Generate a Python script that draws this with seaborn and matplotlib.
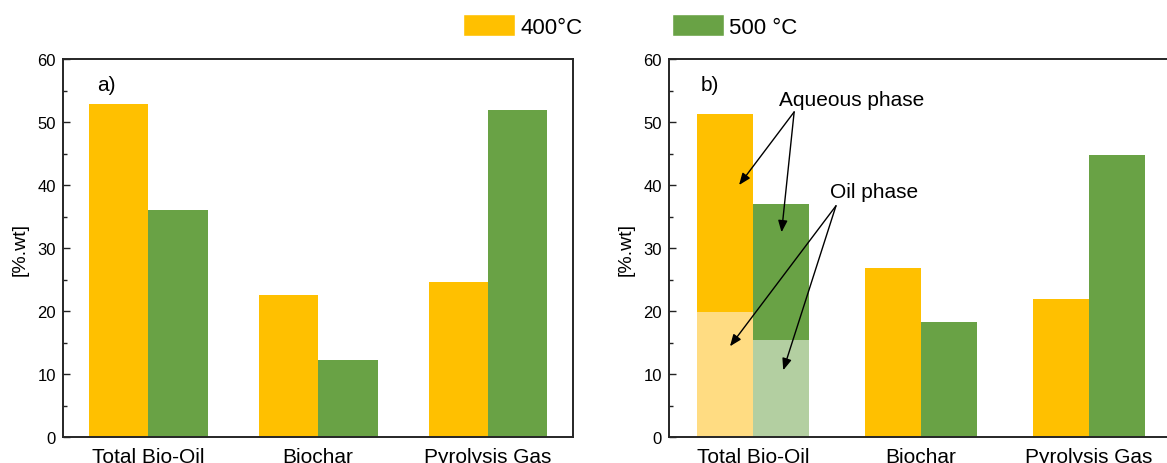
import pandas as pd
import matplotlib
matplotlib.use("Agg")
import matplotlib.pyplot as plt
import seaborn as sns
from matplotlib.ticker import MultipleLocator
from matplotlib.patches import Patch

# data
products = ["Total Bio-Oil", "Biochar", "Pyrolysis Gas"]
temps = ["400°C", "500 °C"]
yield_a_400 = [52.8, 22.6, 24.6]
yield_a_500 = [36.0, 12.2, 51.9]
yield_b_400 = [51.2, 26.9, 21.9]
yield_b_500 = [37.0, 18.3, 44.7]
oil_phase_400 = 19.8
oil_phase_500 = 15.4

orange = "#FFC000"
green = "#69A245"
orange_light = "#FFDC82"
green_light = "#B3CFA1"

sns.set_theme(style="ticks")
plt.rcParams["font.family"] = ["Liberation Sans", "DejaVu Sans"]
plt.rcParams.update({"text.color": "black", "axes.labelcolor": "black",
                     "xtick.color": "black", "ytick.color": "black"})


def make_df(v400, v500):
    return pd.DataFrame({
        "product": products * 2,
        "temp": [temps[0]] * 3 + [temps[1]] * 3,
        "value": list(v400) + list(v500),
    })


df_a = make_df(yield_a_400, yield_a_500)
df_b = make_df(yield_b_400, yield_b_500)
df_oil = pd.DataFrame({"product": [products[0]] * 2, "temp": temps,
                       "value": [oil_phase_400, oil_phase_500]})

fig = plt.figure(figsize=(11.67, 4.64), dpi=100)
ax_a = fig.add_axes([63 / 1167, 26 / 464, 510 / 1167, 378 / 464])
ax_b = fig.add_axes([669 / 1167, 26 / 464, 504 / 1167, 378 / 464])

sns.barplot(data=df_a, x="product", y="value", hue="temp", order=products,
            hue_order=temps, palette=[orange, green], saturation=1, width=0.7,
            gap=0, errorbar=None, linewidth=0, legend=False, ax=ax_a)
sns.barplot(data=df_b, x="product", y="value", hue="temp", order=products,
            hue_order=temps, palette=[orange, green], saturation=1, width=0.667,
            gap=0, errorbar=None, linewidth=0, legend=False, ax=ax_b)
sns.barplot(data=df_oil, x="product", y="value", hue="temp", order=products,
            hue_order=temps, palette=[orange_light, green_light], saturation=1,
            width=0.667, gap=0, errorbar=None, linewidth=0, legend=False, ax=ax_b)

for ax, tag in [(ax_a, "a)"), (ax_b, "b)")]:
    ax.set_xlim(-0.5, 2.5)
    ax.set_ylim(0, 60)
    ax.yaxis.set_major_locator(MultipleLocator(10))
    ax.yaxis.set_minor_locator(MultipleLocator(5))
    ax.tick_params(axis="y", which="major", direction="in", length=5, width=1,
                   labelsize=12, pad=5, color="#222222")
    ax.tick_params(axis="y", which="minor", direction="in", length=3, width=1,
                   color="#222222")
    ax.tick_params(axis="x", length=0, labelsize=15, pad=7)
    ax.set_xlabel("")
    ax.set_ylabel("[%.wt]", fontsize=14, labelpad=6)
    for sp in ax.spines.values():
        sp.set_visible(True)
        sp.set_linewidth(1.4)
        sp.set_color("#262626")
    ax.text(0.066 if tag == "a)" else 0.062, 0.932, tag, transform=ax.transAxes,
            fontsize=15, va="center", ha="left")

# annotations on panel b
ax_b.text(0.59, 53.6, "Aqueous phase", fontsize=15, ha="center", va="center")
ax_b.text(0.72, 38.9, "Oil phase", fontsize=15, ha="center", va="center")
arrow = dict(arrowstyle="-|>,head_length=0.5,head_width=0.2", color="black",
             lw=1, mutation_scale=14, shrinkA=0, shrinkB=0)
for tip in [(-0.083, 40.0), (0.17, 32.5)]:
    ax_b.annotate("", xy=tip, xytext=(0.245, 51.6), arrowprops=arrow)
for tip in [(-0.137, 14.4), (0.18, 10.6)]:
    ax_b.annotate("", xy=tip, xytext=(0.494, 36.7), arrowprops=arrow)

handles = [Patch(facecolor=orange, label=temps[0]),
           Patch(facecolor=green, label=temps[1])]
fig.legend(handles=handles, loc="center", bbox_to_anchor=(0.54, 0.942), ncol=2,
           frameon=False, fontsize=16, handlelength=2.35, handleheight=1.15,
           handletextpad=0.25, columnspacing=4.0)

fig.savefig("out.png", dpi=100)
